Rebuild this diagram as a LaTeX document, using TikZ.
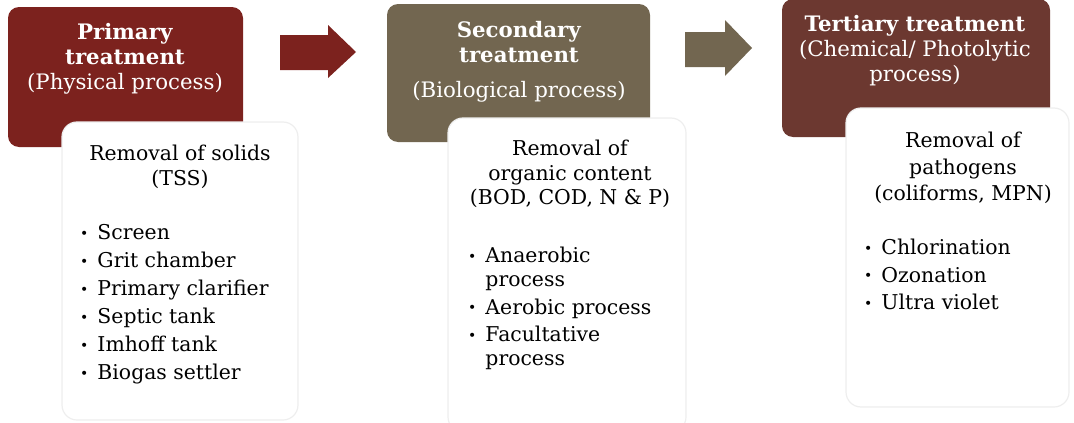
\documentclass[tikz,border=0pt]{standalone}
\usepackage{fontspec}
\setmainfont{DejaVu Serif}
\definecolor{primred}{RGB}{124,34,30}
\definecolor{secbrown}{RGB}{114,102,80}
\definecolor{terbrown}{RGB}{108,56,48}
\definecolor{panelline}{RGB}{238,238,238}
\newcommand{\blt}{\raisebox{1.5pt}{\fontsize{14}{14}\selectfont •}}
\begin{document}
\begin{tikzpicture}[x=1pt,y=-1pt,
  stagebox/.style={fill=#1, rounded corners=11pt, inner sep=0pt, outer sep=0pt},
  panel/.style={fill=white, draw=panelline, line width=1.2pt, rounded corners=15pt, inner sep=0pt, outer sep=0pt},
  headtext/.style={text=white, align=center, inner sep=0pt, font=\fontsize{21.3}{25}\selectfont},
  bodytext/.style={align=center, inner sep=0pt, font=\fontsize{20.4}{25}\selectfont},
  listtext/.style={align=left, inner sep=0pt, anchor=west}
]
\useasboundingbox (0,0) rectangle (1074,423);

% stage headers
\path[stagebox=primred] (8,7) rectangle (243,147);
\node[inner sep=0pt] (prim) at (125.5,77) {};
\path[stagebox=secbrown] (387,4) rectangle (650,142);
\node[inner sep=0pt] (sec) at (518.5,73) {};
\path[stagebox=terbrown] (782,-1) rectangle (1050,137);
\node[inner sep=0pt] (ter) at (916,68) {};

% block arrows between stages
\fill[primred] (280,35) -- (328,35) -- (328,25) -- (356,52) -- (328,78) -- (328,70) -- (280,70) -- cycle;
\fill[secbrown] (685,32) -- (725,32) -- (725,20) -- (752,48) -- (725,76) -- (725,67) -- (685,67) -- cycle;

% white detail panels
\path[panel] (62,122) rectangle (298,420);
\path[panel] (448,118) rectangle (686,432);
\path[panel] (846,108) rectangle (1069,407);

% header texts
\node[headtext] (primtitle) at (125,59) {\textbf{Primary}\\\textbf{treatment}\\(Physical process)};
\node[headtext] (sectitle) at (519,62) {\textbf{Secondary}\\\textbf{treatment}\\[10pt](Biological process)};
\node[headtext] (tertitle) at (915,51) {\textbf{Tertiary treatment}\\(Chemical/ Photolytic\\process)};

% panel headings
\node[bodytext] (primhead) at (180,167) {Removal of solids\\(TSS)};
\node[bodytext, font=\fontsize{20.4}{24.5}\selectfont] (sechead) at (570,174) {Removal of\\organic content\\(BOD, COD, N \& P)};
\node[bodytext, font=\fontsize{20.4}{26.5}\selectfont] (terhead) at (963,168) {Removal of\\pathogens\\(coliforms, MPN)};

% bullet lists
\node[listtext, font=\fontsize{20.4}{28}\selectfont] (primlist) at (80,304) {%
\begin{tabular}{@{}l@{\hspace{9pt}}l@{}}
\blt & Screen\\
\blt & Grit chamber\\
\blt & Primary clarifier\\
\blt & Septic tank\\
\blt & Imhoff tank\\
\blt & Biogas settler
\end{tabular}};
\node[listtext, font=\fontsize{20.4}{24}\selectfont] (seclist) at (468,309.5) {%
\begin{tabular}{@{}l@{\hspace{9pt}}l@{}}
\blt & Anaerobic\\
 & process\\[3.5pt]
\blt & Aerobic process\\[3.5pt]
\blt & Facultative\\
 & process
\end{tabular}};
\node[listtext, font=\fontsize{20.4}{27.5}\selectfont] (terlist) at (864,276.5) {%
\begin{tabular}{@{}l@{\hspace{9pt}}l@{}}
\blt & Chlorination\\
\blt & Ozonation\\
\blt & Ultra violet
\end{tabular}};
\end{tikzpicture}
\end{document}
